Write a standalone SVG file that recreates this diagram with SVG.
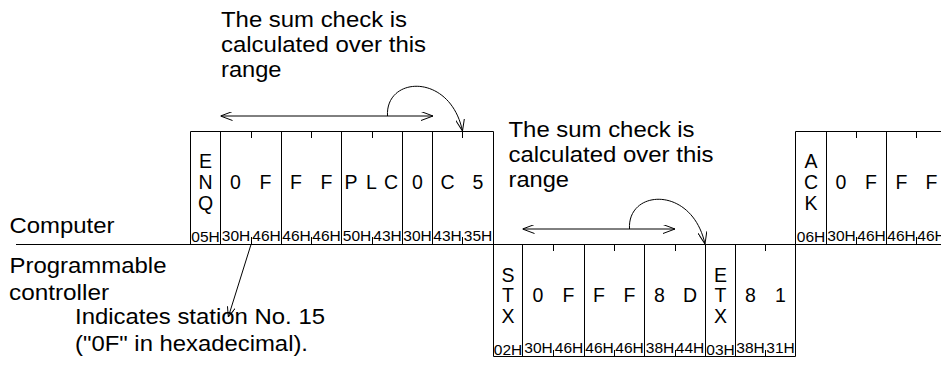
<svg xmlns="http://www.w3.org/2000/svg" width="941" height="366" viewBox="0 0 941 366">
<style>
text{font-family:"Liberation Sans",Arial,Helvetica,sans-serif;fill:#000}
.t{font-size:22px}
.ch{font-size:19.5px;text-anchor:middle}
.hx{font-size:14.5px;text-anchor:middle}
.ln{fill:none;stroke:#000;stroke-width:1}
</style>
<defs>
<marker id="ah" viewBox="0 0 12 9" refX="12" refY="4.5" markerWidth="12" markerHeight="9" orient="auto-start-reverse" markerUnits="userSpaceOnUse"><path d="M0,0 L12,4.5 L0,9" fill="none" stroke="#000" stroke-width="1"/></marker>
<marker id="ahs" viewBox="0 0 10 8" refX="10" refY="4" markerWidth="10" markerHeight="8" orient="auto" markerUnits="userSpaceOnUse"><path d="M0,0 L10,4 L0,8" fill="none" stroke="#000" stroke-width="1"/></marker>
</defs>
<rect width="941" height="366" fill="#fff"/>

<g id="title-range-1">
<text class="t" x="221" y="27" textLength="186" lengthAdjust="spacingAndGlyphs">The sum check is</text>
<text class="t" x="221" y="52" textLength="205" lengthAdjust="spacingAndGlyphs">calculated over this</text>
<text class="t" x="221" y="77" textLength="60.5" lengthAdjust="spacingAndGlyphs">range</text>
</g>

<g id="title-range-2">
<text class="t" x="508.5" y="136.5" textLength="186" lengthAdjust="spacingAndGlyphs">The sum check is</text>
<text class="t" x="508.5" y="161.5" textLength="205" lengthAdjust="spacingAndGlyphs">calculated over this</text>
<text class="t" x="508.5" y="186.5" textLength="60.5" lengthAdjust="spacingAndGlyphs">range</text>
</g>

<g id="side-labels">
<text class="t" x="9.5" y="233" textLength="105" lengthAdjust="spacingAndGlyphs">Computer</text>
<text class="t" x="9.5" y="272.5" textLength="157" lengthAdjust="spacingAndGlyphs">Programmable</text>
<text class="t" x="9" y="300" textLength="100" lengthAdjust="spacingAndGlyphs">controller</text>
</g>

<g id="note-station">
<text class="t" x="75" y="323.5" textLength="250" lengthAdjust="spacingAndGlyphs">Indicates station No. 15</text>
<text class="t" x="75" y="350.5" textLength="233" lengthAdjust="spacingAndGlyphs">("0F" in hexadecimal).</text>
</g>

<g id="timeline">
<path class="ln" d="M16,244.5 H941"/>
</g>

<g id="frame-enq">
<path class="ln" d="M190.5,244.5 V131.5 H493.5 V244.5 M220.5,131.5 V244.5 M281.5,131.5 V244.5 M341.5,131.5 V244.5 M402.5,131.5 V244.5 M432.5,131.5 V244.5"/>
<path class="ln" d="M251.5,131.5 V138 M311.5,131.5 V138 M372.5,131.5 V138 M462.5,131.5 V138 M251.5,244.5 V237 M311.5,244.5 V237 M372.5,244.5 V237 M462.5,244.5 V237"/>
<text class="ch" x="205.5" y="168">E</text>
<text class="ch" x="205.5" y="189">N</text>
<text class="ch" x="205.5" y="209.5">Q</text>
<text class="ch" x="235.5" y="189">0</text>
<text class="ch" x="265.5" y="189">F</text>
<text class="ch" x="296" y="189">F</text>
<text class="ch" x="326.5" y="189">F</text>
<text class="ch" x="351" y="189">P</text>
<text class="ch" x="371.5" y="189">L</text>
<text class="ch" x="391" y="189">C</text>
<text class="ch" x="417.5" y="189">0</text>
<text class="ch" x="447.5" y="189">C</text>
<text class="ch" x="478" y="189">5</text>
<text class="hx" x="205.5" y="242" textLength="28.5" lengthAdjust="spacingAndGlyphs">05H</text>
<text class="hx" x="236" y="240.5" textLength="28.5" lengthAdjust="spacingAndGlyphs">30H</text>
<text class="hx" x="266.5" y="240.5" textLength="28.5" lengthAdjust="spacingAndGlyphs">46H</text>
<text class="hx" x="296.5" y="240.5" textLength="28.5" lengthAdjust="spacingAndGlyphs">46H</text>
<text class="hx" x="326.5" y="240.5" textLength="28.5" lengthAdjust="spacingAndGlyphs">46H</text>
<text class="hx" x="357" y="240.5" textLength="28.5" lengthAdjust="spacingAndGlyphs">50H</text>
<text class="hx" x="387.5" y="240.5" textLength="28.5" lengthAdjust="spacingAndGlyphs">43H</text>
<text class="hx" x="417.5" y="240.5" textLength="28.5" lengthAdjust="spacingAndGlyphs">30H</text>
<text class="hx" x="447.5" y="240.5" textLength="28.5" lengthAdjust="spacingAndGlyphs">43H</text>
<text class="hx" x="478" y="240.5" textLength="28.5" lengthAdjust="spacingAndGlyphs">35H</text>
</g>

<g id="frame-stx">
<path class="ln" d="M493.5,244.5 V356.5 H795.5 V244.5 M522.5,244.5 V356.5 M584.5,244.5 V356.5 M644.5,244.5 V356.5 M705.5,244.5 V356.5 M735.5,244.5 V356.5"/>
<path class="ln" d="M553.5,244.5 V251 M614.5,244.5 V251 M675.5,244.5 V251 M765.5,244.5 V251 M553.5,356.5 V350 M614.5,356.5 V350 M675.5,356.5 V350 M765.5,356.5 V350"/>
<text class="ch" x="508" y="281.5">S</text>
<text class="ch" x="508" y="302">T</text>
<text class="ch" x="508" y="323">X</text>
<text class="ch" x="538" y="302">0</text>
<text class="ch" x="568.5" y="302">F</text>
<text class="ch" x="599" y="302">F</text>
<text class="ch" x="629.5" y="302">F</text>
<text class="ch" x="659.5" y="302">8</text>
<text class="ch" x="690" y="302">D</text>
<text class="ch" x="720.5" y="281.5">E</text>
<text class="ch" x="720.5" y="302">T</text>
<text class="ch" x="720.5" y="323">X</text>
<text class="ch" x="750.5" y="302">8</text>
<text class="ch" x="780.5" y="302">1</text>
<text class="hx" x="508" y="355" textLength="28.5" lengthAdjust="spacingAndGlyphs">02H</text>
<text class="hx" x="538.5" y="352.5" textLength="28.5" lengthAdjust="spacingAndGlyphs">30H</text>
<text class="hx" x="569" y="352.5" textLength="28.5" lengthAdjust="spacingAndGlyphs">46H</text>
<text class="hx" x="599.5" y="352.5" textLength="28.5" lengthAdjust="spacingAndGlyphs">46H</text>
<text class="hx" x="629.5" y="352.5" textLength="28.5" lengthAdjust="spacingAndGlyphs">46H</text>
<text class="hx" x="660" y="352.5" textLength="28.5" lengthAdjust="spacingAndGlyphs">38H</text>
<text class="hx" x="690" y="352.5" textLength="28.5" lengthAdjust="spacingAndGlyphs">44H</text>
<text class="hx" x="720.5" y="355" textLength="28.5" lengthAdjust="spacingAndGlyphs">03H</text>
<text class="hx" x="750.5" y="352.5" textLength="28.5" lengthAdjust="spacingAndGlyphs">38H</text>
<text class="hx" x="780.5" y="352.5" textLength="28.5" lengthAdjust="spacingAndGlyphs">31H</text>
</g>

<g id="frame-ack">
<path class="ln" d="M795.5,244.5 V131.5 H941 M826.5,131.5 V244.5 M886.5,131.5 V244.5"/>
<path class="ln" d="M856.5,131.5 V138 M916.5,131.5 V138 M856.5,244.5 V237 M916.5,244.5 V237"/>
<text class="ch" x="811" y="168">A</text>
<text class="ch" x="811" y="189">C</text>
<text class="ch" x="811" y="209.5">K</text>
<text class="ch" x="841" y="189">0</text>
<text class="ch" x="871" y="189">F</text>
<text class="ch" x="901.5" y="189">F</text>
<text class="ch" x="931.5" y="189">F</text>
<text class="hx" x="811" y="242" textLength="28.5" lengthAdjust="spacingAndGlyphs">06H</text>
<text class="hx" x="841.5" y="240.5" textLength="28.5" lengthAdjust="spacingAndGlyphs">30H</text>
<text class="hx" x="871.5" y="240.5" textLength="28.5" lengthAdjust="spacingAndGlyphs">46H</text>
<text class="hx" x="901.5" y="240.5" textLength="28.5" lengthAdjust="spacingAndGlyphs">46H</text>
<text class="hx" x="931.5" y="240.5" textLength="28.5" lengthAdjust="spacingAndGlyphs">46H</text>
</g>

<g id="connectors">
<path class="ln" d="M220.5,116 H433" marker-start="url(#ah)" marker-end="url(#ah)"/>
<path class="ln" d="M387.5,116 C385,76 450,72 462.5,131" marker-end="url(#ah)"/>
<path class="ln" d="M522.5,229 H675" marker-start="url(#ah)" marker-end="url(#ah)"/>
<path class="ln" d="M629.5,229 C627,189 692,185 705,244" marker-end="url(#ah)"/>
<path class="ln" d="M251,244.5 L228.3,317" marker-end="url(#ahs)"/>
</g>
</svg>
